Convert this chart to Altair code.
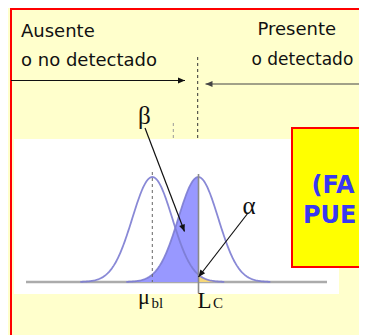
import math
import numpy as np
import pandas as pd
import altair as alt

# ---------------- data (diagram coordinates = page pixels) ----------------
header_text = ["Ausente", "o no detectado", "Presente", "o  detectado"]
header_x = [21.0, 21.0, 257.5, 251.5]
header_y = [36.7, 66.0, 35.3, 64.8]
header_size = [18, 18, 18, 17]

greek_text = ["β", "α"]
greek_x = [138.0, 242.5]
greek_y = [124.0, 214.0]

sym_text = ["μ", "bl", "L", "C"]
sym_x = [138.0, 151.5, 197.5, 213.0]
sym_y = [303.5, 307.5, 307.5, 308.0]
sym_size = [22, 15, 23, 15]

box_text = ["(FA", "PUE"]
box_text_x = [311.5, 303.0]
box_text_y = [193.0, 223.0]

arrow_x1 = [11.0, 390.0, 145.0, 248.0]
arrow_y1 = [80.5, 84.0, 128.0, 213.0]
arrow_x2 = [185.0, 205.5, 184.5, 198.5]
arrow_y2 = [80.5, 84.0, 231.5, 277.0]
arrow_color = ["#111111", "#444444", "#111111", "#111111"]

dash_x = [197.7, 173.3, 152.3]
dash_y1 = [57.0, 123.0, 172.0]
dash_y2 = [139.0, 139.0, 282.0]
dash_color = ["#333333", "#999999", "#666666"]

rect_x1 = [15.0, 292.0]
rect_x2 = [338.0, 420.0]
rect_y1 = [140.0, 128.0]
rect_y2 = [293.0, 267.0]
rect_fill = ["#FFFFFF", "#FFFF00"]
rect_stroke = ["#FFFFFF", "#FF0000"]

frame_x1, frame_y1, frame_x2, frame_y2 = [11.0], [9.0], [420.0], [420.0]

baseline_x1, baseline_x2, baseline_y = [26.0], [327.0], [282.0]
lc_line_x, lc_line_y1, lc_line_y2 = [198.5], [174.0], [293.0]

# distributions (concentration in sigma units)
mu_blank = 0.0
l_c = 2.3
sigma = 1.0
span = 3.6
# where the curve frame sits on the page
origin_px = (152.3, 282.0)
px_per_unit = 20.0
px_per_density = 263.2

# ---------------- tables ----------------
X0, X1, Y0, Y1 = 8.0, 359.0, 8.0, 335.0
W, H = X1 - X0, Y1 - Y0

headers = pd.DataFrame({"t": header_text, "x": header_x, "y": header_y, "s": header_size})
greeks = pd.DataFrame({"t": greek_text, "x": greek_x, "y": greek_y})
syms = pd.DataFrame({"t": sym_text, "x": sym_x, "y": sym_y, "s": sym_size})
boxt = pd.DataFrame({"t": box_text, "x": box_text_x, "y": box_text_y})
arrows = pd.DataFrame({"x": arrow_x1, "y": arrow_y1, "x2": arrow_x2,
                       "y2": arrow_y2, "c": arrow_color})
arrows["ang"] = [
    math.degrees(math.atan2(b2 - b1, a2 - a1)) % 360
    for a1, b1, a2, b2 in zip(arrow_x1, arrow_y1, arrow_x2, arrow_y2)
]
dashes = pd.DataFrame({"x": dash_x, "y": dash_y1, "y2": dash_y2, "c": dash_color})
rects = pd.DataFrame({"x": rect_x1, "x2": rect_x2, "y": rect_y1, "y2": rect_y2,
                      "f": rect_fill, "s": rect_stroke})
frame = pd.DataFrame({"x": frame_x1, "x2": frame_x2, "y": frame_y1, "y2": frame_y2})
base = pd.DataFrame({"x": baseline_x1, "x2": baseline_x2, "y": baseline_y})
lcl = pd.DataFrame({"x": lc_line_x, "y": lc_line_y1, "y2": lc_line_y2})


def npdf(c, m):
    return np.exp(-0.5 * ((c - m) / sigma) ** 2) / (sigma * math.sqrt(2 * math.pi))


rows = []
for name, m in [("blanco", mu_blank), ("muestra", l_c)]:
    for c in np.linspace(m - span, m + span, 181):
        rows.append({"curve": name, "c": c, "d": npdf(c, m)})
curves = pd.DataFrame(rows)
beta_df = curves[(curves.curve == "muestra") & (curves.c <= l_c + 1e-9)]
alpha_df = curves[(curves.curve == "blanco") & (curves.c >= l_c - 1e-9)]

# ---------------- scales ----------------
xs = alt.Scale(domain=[X0, X1], nice=False, zero=False)
ys = alt.Scale(domain=[Y0, Y1], reverse=True, nice=False, zero=False)
cxs = alt.Scale(domain=[(X0 - origin_px[0]) / px_per_unit, (X1 - origin_px[0]) / px_per_unit],
                nice=False, zero=False)
cys = alt.Scale(domain=[(origin_px[1] - Y1) / px_per_density, (origin_px[1] - Y0) / px_per_density],
                nice=False, zero=False)

X = lambda f="x": alt.X(f"{f}:Q", scale=xs, axis=None)
Y = lambda f="y": alt.Y(f"{f}:Q", scale=ys, axis=None)

# ---------------- background group ----------------
bg_rects = alt.Chart(rects).mark_rect(clip=True, strokeWidth=2).encode(
    x=X(), x2="x2:Q", y=Y(), y2="y2:Q",
    fill=alt.Fill("f:N", scale=None), stroke=alt.Stroke("s:N", scale=None))
bg_frame = alt.Chart(frame).mark_rect(clip=True, fillOpacity=0, stroke="#FF0000",
                                      strokeWidth=2).encode(
    x=X(), x2="x2:Q", y=Y(), y2="y2:Q")
bg_base = alt.Chart(base).mark_rule(color="#ABABAB", strokeWidth=2.5).encode(
    x=X(), x2="x2:Q", y=Y())
bg = alt.layer(bg_rects, bg_frame, bg_base)

# ---------------- curves group ----------------
CX = alt.X("c:Q", scale=cxs, axis=None)
CY = alt.Y("d:Q", scale=cys, axis=None)
beta_area = alt.Chart(beta_df).mark_area(color="#9898FF", opacity=1).encode(
    x=CX, y=CY, y2=alt.datum(0))
alpha_area = alt.Chart(alpha_df).mark_area(color="#F6D778", opacity=1).encode(
    x=CX, y=CY, y2=alt.datum(0))
lines = alt.Chart(curves).mark_line(color="#7C7CD2", strokeWidth=1.8, opacity=0.9).encode(
    x=CX, y=CY, detail="curve:N")
cv = alt.layer(beta_area, alpha_area, lines)

# ---------------- foreground group ----------------
lc_rule = alt.Chart(lcl).mark_rule(color="#8A8A8A", strokeWidth=1.6).encode(
    x=X(), y=Y(), y2="y2:Q")
dash_rules = alt.Chart(dashes).mark_rule(strokeDash=[3, 3], strokeWidth=1).encode(
    x=X(), y=Y(), y2="y2:Q", color=alt.Color("c:N", scale=None))
arrow_lines = alt.Chart(arrows).mark_rule(strokeWidth=1.2, clip=True).encode(
    x=X(), y=Y(), x2="x2:Q", y2="y2:Q", color=alt.Color("c:N", scale=None))
arrow_heads = alt.Chart(arrows).mark_point(
    shape="M0,0L-1,-0.43L-1,0.43Z", filled=True, opacity=1, strokeWidth=0, size=196
).encode(x=X("x2"), y=Y("y2"), angle=alt.Angle("ang:Q", scale=None),
         color=alt.Color("c:N", scale=None))
head_txt = alt.Chart(headers).mark_text(
    font="DejaVu Sans", align="left", baseline="alphabetic",
    color="#111111", clip=True).encode(x=X(), y=Y(), text="t:N",
                                       size=alt.Size("s:Q", scale=None))
greek_txt = alt.Chart(greeks).mark_text(
    font="Liberation Serif", fontSize=25, align="left", baseline="alphabetic",
    color="#111111").encode(x=X(), y=Y(), text="t:N")
sym_txt = alt.Chart(syms).mark_text(
    font="Liberation Serif", align="left", baseline="alphabetic",
    color="#111111").encode(x=X(), y=Y(), text="t:N",
                            size=alt.Size("s:Q", scale=None))
box_txt = alt.Chart(boxt).mark_text(
    font="DejaVu Sans", fontSize=24, fontWeight="bold", align="left",
    baseline="alphabetic", color="#3838F2", clip=True).encode(x=X(), y=Y(), text="t:N")
fg = alt.layer(lc_rule, dash_rules, arrow_lines, arrow_heads, head_txt, greek_txt,
               sym_txt, box_txt)

chart = alt.layer(bg, cv, fg).resolve_scale(
    x="independent", y="independent"
).properties(
    width=W, height=H, padding=0,
    autosize=alt.AutoSizeParams(type="none"),
    background="#FFFFCC",
).configure_view(stroke=None)

chart.save("out.html", embed_options={"renderer": "svg", "actions": False})
